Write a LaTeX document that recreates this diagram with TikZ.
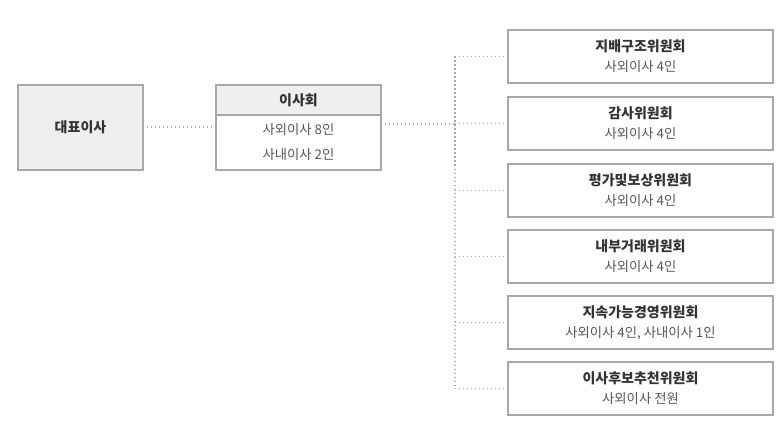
\documentclass[tikz,border=0pt]{standalone}
\usepackage{fontspec}
\setmainfont{Noto Sans CJK KR}
\definecolor{bd}{HTML}{A8A8A8}
\definecolor{fl}{HTML}{EFEFEF}
\definecolor{tx}{HTML}{555555}
\definecolor{tt}{HTML}{333333}
\begin{document}
\begin{tikzpicture}[x=0.75pt,y=-0.75pt,
  box/.style={draw=bd,line width=0.9pt},
  dl/.style={draw=bd,line width=1pt,dotted},
  ttl/.style={text=tt,font=\fontsize{10.5pt}{12pt}\selectfont\bfseries},
  sub/.style={text=tx,font=\fontsize{10pt}{12pt}\selectfont}]
\useasboundingbox (0,0) rectangle (779,428);
\draw[box,fill=fl] (18,85) rectangle (143,170);
\node[ttl] (ceo) at (80.5,127.5) {대표이사};
\coordinate (ceoR) at (143,127);
\draw[box] (216,85) rectangle (381,170);
\fill[fl] (216,85) rectangle (381,115);
\draw[box] (216,85) rectangle (381,170);
\draw[box] (216,115) -- (381,115);
\node[ttl] (bd) at (298.5,100) {이사회};
\node[sub] (b1) at (298.5,130) {사외이사 8인};
\node[sub] (b2) at (298.5,155) {사내이사 2인};
\coordinate (bdL) at (216,127);
\coordinate (bdR) at (381,124);
\draw[dl] (ceoR) -- (bdL);
\coordinate (jn) at (455,124);
\draw[dl] (bdR) -- (jn);
\foreach \i/\y/\t/\s in {1/30/지배구조위원회/사외이사 4인,2/97/감사위원회/사외이사 4인,3/164/평가및보상위원회/사외이사 4인,4/230/내부거래위원회/사외이사 4인,5/296/지속가능경영위원회/{사외이사 4인, 사내이사 1인},6/362/이사후보추천위원회/사외이사 전원}{
  \draw[box] (508,\y) rectangle (773,\y+53);
  \node[ttl] (c\i) at (640.5,\y+16) {\t};
  \node[sub] (s\i) at (640.5,\y+37) {\s};
  \coordinate (L\i) at (508,\y+26.5);
  \coordinate (T\i) at (455,\y+26.5);
  \draw[dl] (T\i) -- (L\i);
}
\draw[dl] (T1) -- (T6);
\end{tikzpicture}
\end{document}
